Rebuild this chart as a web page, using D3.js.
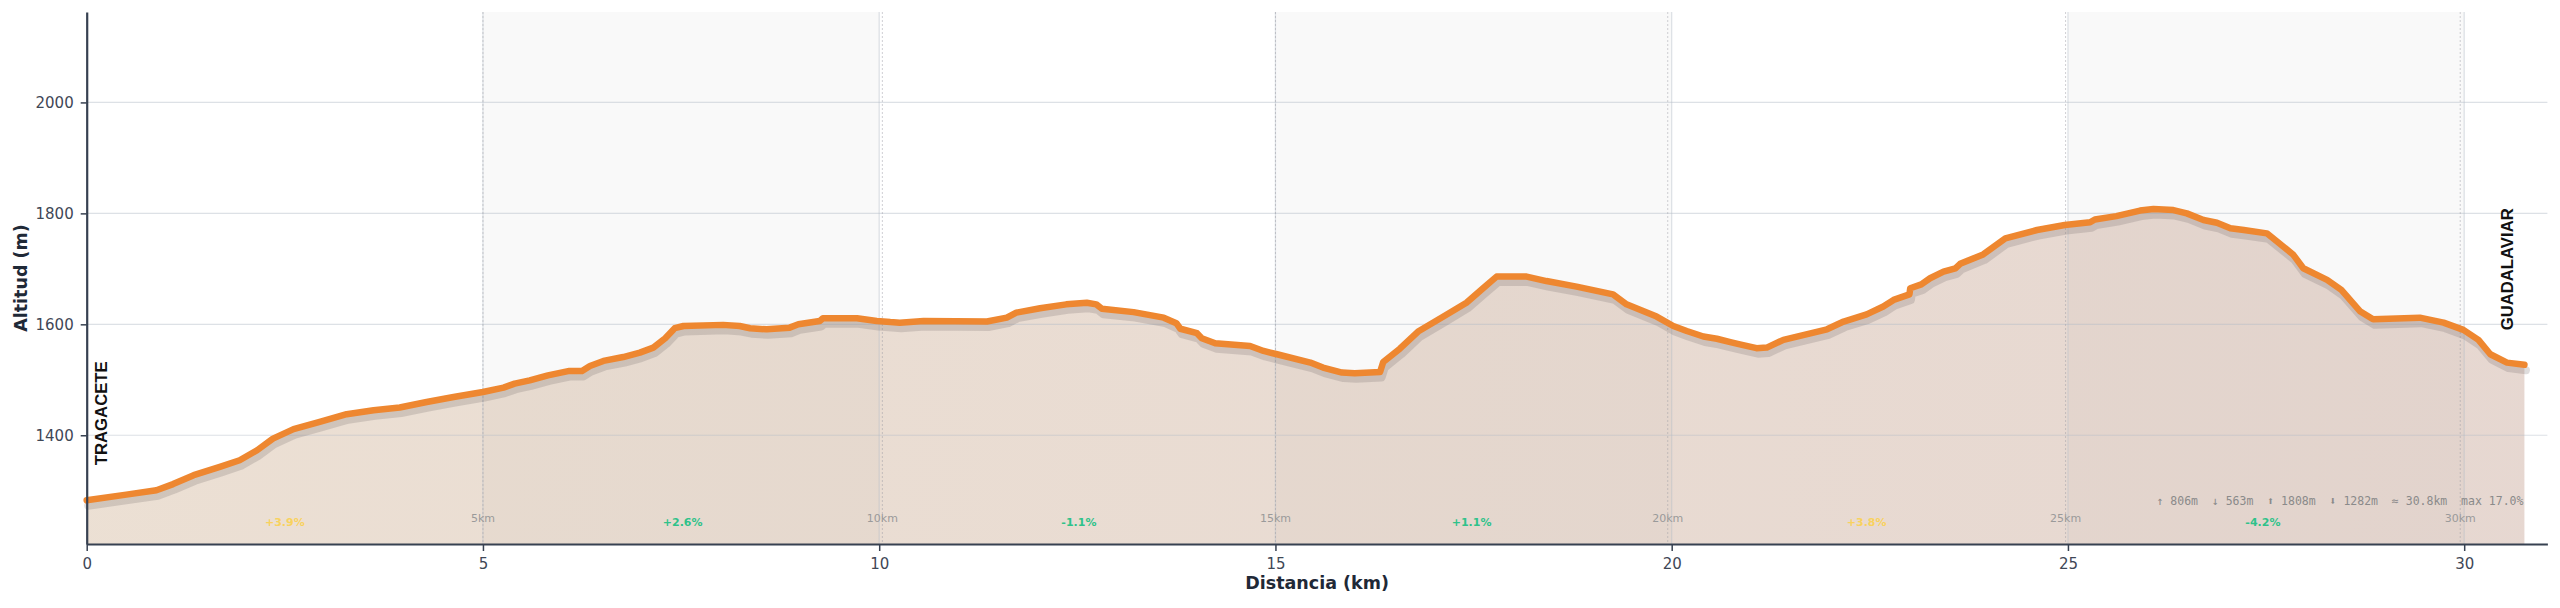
<!DOCTYPE html>
<html>
<head>
<meta charset="utf-8">
<script src="https://cdn.jsdelivr.net/npm/d3@7"></script>
<style>
  html, body { margin: 0; padding: 0; background: #fff; }
  svg { display: block; font-family: "DejaVu Sans", sans-serif; }
</style>
</head>
<body>
<svg id="chart" width="2560" height="608"></svg>
<script>
// profile: distance (km) and altitude (m)
const distKm = [0.00, 0.50, 0.88, 1.09, 1.35, 1.68, 1.93, 2.15, 2.35, 2.61, 2.94, 3.28, 3.62, 3.95, 4.29, 4.63,
  5.00, 5.26, 5.40, 5.59, 5.82, 6.09, 6.25, 6.35, 6.52, 6.77, 6.98, 7.15, 7.30, 7.42, 7.53, 8.03, 8.24, 8.37,
  8.58, 8.87, 8.98, 9.25, 9.29, 9.72, 9.97, 10.14, 10.26, 10.56, 11.36, 11.61, 11.73, 12.03, 12.36, 12.62,
  12.74, 12.81, 13.21, 13.59, 13.75, 13.80, 14.01, 14.07, 14.24, 14.68, 14.85, 15.02, 15.44, 15.60, 15.84,
  16.00, 16.32, 16.36, 16.57, 16.80, 17.12, 17.41, 17.62, 17.79, 18.17, 18.42, 18.80, 19.26, 19.43, 19.81,
  20.02, 20.19, 20.40, 20.57, 20.74, 20.86, 21.07, 21.20, 21.41, 21.96, 22.17, 22.46, 22.67, 22.80, 23.00,
  23.01, 23.15, 23.26, 23.43, 23.58, 23.64, 23.93, 24.21, 24.61, 24.96, 25.28, 25.34, 25.61, 25.91, 26.08,
  26.33, 26.50, 26.71, 26.88, 27.05, 27.22, 27.51, 27.84, 27.97, 28.27, 28.45, 28.69, 28.85, 29.44, 29.74,
  29.99, 30.18, 30.33, 30.54, 30.76];
const altitude = [1283, 1293, 1301, 1312, 1328, 1343, 1355, 1373, 1394, 1411, 1424, 1438, 1445, 1450, 1460, 1469,
  1478, 1486, 1493, 1499, 1508, 1516, 1516, 1525, 1534, 1541, 1549, 1558, 1575, 1593, 1597, 1599, 1597, 1593,
  1591, 1594, 1600, 1606, 1611, 1611, 1606, 1604, 1603, 1606, 1605, 1612, 1621, 1629, 1636, 1639,
  1636, 1628, 1622, 1612, 1602, 1592, 1584, 1575, 1566, 1561, 1552, 1546, 1531, 1522, 1513,
  1512, 1514, 1532, 1556, 1587, 1614, 1639, 1665, 1686, 1686, 1678, 1668, 1654, 1636, 1614,
  1597, 1588, 1578, 1574, 1568, 1564, 1557, 1558, 1572, 1591, 1605, 1618, 1632, 1644, 1654,
  1665, 1672, 1683, 1695, 1701, 1709, 1726, 1755, 1770, 1779, 1784, 1789, 1795, 1805, 1808,
  1806, 1800, 1788, 1783, 1773, 1770, 1764, 1726, 1701, 1680, 1662, 1623, 1609, 1612, 1603,
  1590, 1572, 1546, 1531, 1527];

const xTicks = [0, 5, 10, 15, 20, 25, 30];
const yTicks = [1400, 1600, 1800, 2000];
const bandStarts = [5, 15, 25];
const markerKm = [5.00, 10.04, 15.00, 19.95, 24.97, 29.95];
const markerLabels = ["5km", "10km", "15km", "20km", "25km", "30km"];
const segmentGrades = [3.9, 2.6, -1.1, 1.1, 3.8, -4.2];
const placeNames = ["TRAGACETE", "GUADALAVIAR"];
const statsText = "\u2191 806m  \u2193 563m  \u2B06 1808m  \u2B07 1282m  \u2248 30.8km  max 17.0%";

const data = distKm.map((d, i) => ({ km: d, alt: altitude[i] }));

const W = 2560, H = 608;
const margin = { top: 12, right: 12.6, bottom: 64, left: 86.7 };

const svg = d3.select('#chart');

const x = d3.scaleLinear().domain([0, 31.05]).range([margin.left, W - margin.right]);
const y = d3.scaleLinear().domain([1204, 2163]).range([H - margin.bottom, margin.top]);

const defs = svg.append('defs');
const grad = defs.append('linearGradient').attr('id', 'areaFill')
  .attr('x1', '0%').attr('x2', '100%').attr('y1', '0%').attr('y2', '0%');
grad.append('stop').attr('offset', '0%').attr('stop-color', 'rgb(190,150,110)').attr('stop-opacity', 0.3);
grad.append('stop').attr('offset', '100%').attr('stop-color', 'rgb(180,135,115)').attr('stop-opacity', 0.33);

// alternating 5 km bands
svg.append('g').selectAll('rect')
  .data(bandStarts)
  .enter()
  .append('rect')
  .attr('x', d => x(d))
  .attr('y', margin.top)
  .attr('width', d => x(d + 5) - x(d))
  .attr('height', y.range()[0] - margin.top)
  .attr('fill', '#f9f9f9');

// area
const area = d3.area()
  .x(d => x(d.km))
  .y0(y(y.domain()[0]))
  .y1(d => y(d.alt));

svg.append('path')
  .datum(data)
  .attr('d', area)
  .attr('fill', 'url(#areaFill)');

// grid
svg.append('g').selectAll('line')
  .data(yTicks)
  .enter()
  .append('line')
  .attr('x1', margin.left).attr('x2', W - margin.right)
  .attr('y1', d => y(d)).attr('y2', d => y(d))
  .attr('stroke', 'rgba(180,188,200,0.45)')
  .attr('stroke-width', 1.2);

svg.append('g').selectAll('line')
  .data(xTicks.filter(d => d > 0))
  .enter()
  .append('line')
  .attr('x1', d => x(d)).attr('x2', d => x(d))
  .attr('y1', margin.top).attr('y2', y.range()[0])
  .attr('stroke', 'rgba(180,188,200,0.45)')
  .attr('stroke-width', 1.2);

// km markers
svg.append('g').selectAll('line')
  .data(markerKm)
  .enter()
  .append('line')
  .attr('x1', d => x(d)).attr('x2', d => x(d))
  .attr('y1', margin.top).attr('y2', y.range()[0])
  .attr('stroke', 'rgba(150,150,160,0.45)')
  .attr('stroke-width', 1)
  .attr('stroke-dasharray', '2,2');

svg.append('g').selectAll('text')
  .data(markerKm)
  .enter()
  .append('text')
  .attr('x', d => x(d))
  .attr('y', 521.5)
  .attr('text-anchor', 'middle')
  .attr('font-size', '11px')
  .attr('fill', '#9a9a9a')
  .text((d, i) => markerLabels[i]);

// grade per segment
const segStarts = [0].concat(markerKm.slice(0, -1));
svg.append('g').selectAll('text')
  .data(segmentGrades)
  .enter()
  .append('text')
  .attr('x', (d, i) => x((segStarts[i] + markerKm[i]) / 2))
  .attr('y', 525.5)
  .attr('text-anchor', 'middle')
  .attr('font-size', '11px')
  .attr('font-weight', 'bold')
  .attr('fill', d => d > 3 ? '#f9d25e' : '#2fc28a')
  .text(d => (d > 0 ? '+' : '') + d.toFixed(1) + '%');

// line with shadow
const line = d3.line()
  .x(d => x(d.km))
  .y(d => y(d.alt));

svg.append('path')
  .datum(data)
  .attr('d', line)
  .attr('transform', 'translate(1.5,5.5)')
  .attr('fill', 'none')
  .attr('stroke', 'rgba(110,100,100,0.22)')
  .attr('stroke-width', 8)
  .attr('stroke-linejoin', 'round')
  .attr('stroke-linecap', 'round');

svg.append('path')
  .datum(data)
  .attr('d', line)
  .attr('fill', 'none')
  .attr('stroke', '#ee8730')
  .attr('stroke-width', 6.5)
  .attr('stroke-linejoin', 'round')
  .attr('stroke-linecap', 'round');

// axes
const xAxis = svg.append('g')
  .attr('transform', `translate(0,${y.range()[0]})`)
  .call(d3.axisBottom(x).tickValues(xTicks).tickSize(7).tickPadding(7).tickSizeOuter(0));
const yAxis = svg.append('g')
  .attr('transform', `translate(${margin.left},0)`)
  .call(d3.axisLeft(y).tickValues(yTicks).tickFormat(d3.format('d')).tickSize(6).tickPadding(7).tickSizeOuter(0));

[xAxis, yAxis].forEach(g => {
  g.select('.domain').attr('stroke', '#374151').attr('stroke-width', 2.2);
  g.selectAll('.tick line').attr('stroke', '#374151').attr('stroke-width', 1.5);
  g.selectAll('.tick text')
    .attr('font-family', '"DejaVu Sans", sans-serif')
    .attr('font-size', '15px')
    .attr('fill', '#3f4756');
});

svg.append('text')
  .attr('x', (margin.left + W - margin.right) / 2)
  .attr('y', 589)
  .attr('text-anchor', 'middle')
  .attr('font-size', '17.5px')
  .attr('font-weight', 'bold')
  .attr('fill', '#1f2937')
  .text('Distancia (km)');

svg.append('text')
  .attr('transform', `translate(26.5,${(margin.top + y.range()[0]) / 2}) rotate(-90)`)
  .attr('text-anchor', 'middle')
  .attr('font-size', '17.5px')
  .attr('font-weight', 'bold')
  .attr('fill', '#1f2937')
  .text('Altitud (m)');

// start / end place names
const first = data[0], last = data[data.length - 1];
svg.append('text')
  .attr('transform', `translate(${x(first.km) + 20},${y(first.alt) - 35}) rotate(-90)`)
  .attr('font-family', '"Liberation Sans", Arial, sans-serif')
  .attr('font-size', '16.7px')
  .attr('font-weight', 'bold')
  .attr('fill', '#111')
  .text(placeNames[0]);
svg.append('text')
  .attr('transform', `translate(${x(last.km) - 11},${y(last.alt) - 34.5}) rotate(-90)`)
  .attr('font-family', '"Liberation Sans", Arial, sans-serif')
  .attr('font-size', '16.7px')
  .attr('font-weight', 'bold')
  .attr('fill', '#111')
  .text(placeNames[1]);

// summary
svg.append('text')
  .attr('x', x(last.km) - 1)
  .attr('y', 505)
  .attr('text-anchor', 'end')
  .attr('font-family', '"DejaVu Sans Mono", monospace')
  .attr('font-size', '11.5px')
  .attr('fill', '#8a8a8a')
  .attr('xml:space', 'preserve')
  .style('white-space', 'pre')
  .text(statsText);
</script>
</body>
</html>
